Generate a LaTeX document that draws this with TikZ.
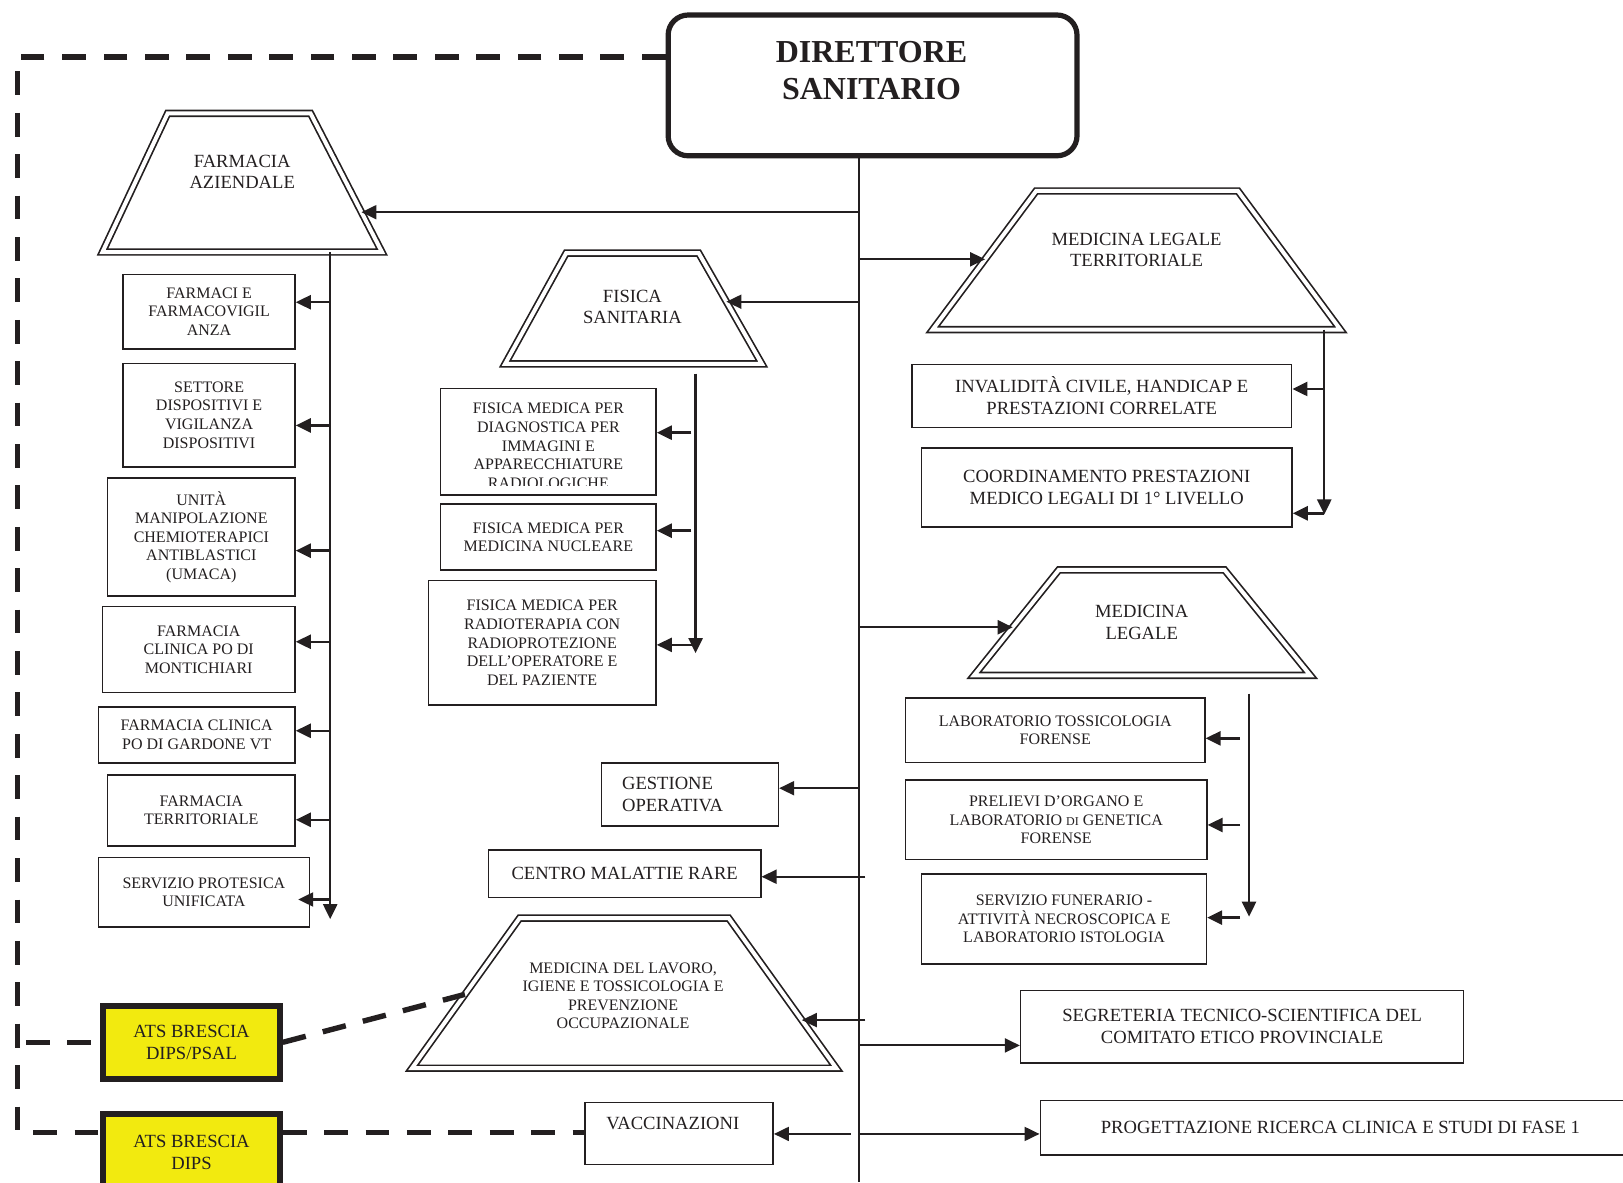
\documentclass[tikz,border=0pt]{standalone}
\usepackage{fontspec}
\setmainfont{Liberation Serif}
\usepackage{xcolor}
\usetikzlibrary{arrows.meta,calc}

\definecolor{ink}{RGB}{35,31,32}
\definecolor{atsyellow}{RGB}{242,234,15}

\tikzset{boxsize/.style 2 args={minimum width={#1*0.5175pt}, minimum height={#2*0.5175pt}}}

\begin{document}
\begin{tikzpicture}[x=0.5175pt, y=-0.5175pt, every node/.style={
    inner sep=0pt,
    align=center,
    text=ink
},
    txtsmall/.style={font=\fontsize{8}{9.3}\selectfont},
    txtbig/.style={font=\fontsize{9.3}{10.9}\selectfont},
    unitbox/.style={rectangle, draw=ink, line width=0.75pt, fill=white},
    directorbox/.style={rectangle, draw=ink, line width=2.6pt, rounded corners=10pt, fill=white},
    atsbox/.style={rectangle, draw=ink, line width=3pt, fill=atsyellow, txtbig},
    deptshape/.style={draw=ink, line width=0.85pt, double=white, double distance=2pt, line join=miter},
    trunkline/.style={draw=ink, line width=0.7pt},
    brancharrow/.style={-{Triangle[length=7.5pt, width=7pt]}, draw=ink, line width=1pt},
    colarrow/.style={-{Triangle[length=7.5pt, width=7pt]}, draw=ink, line width=1.2pt},
    dashline/.style={draw=ink, line width=2.7pt, dash pattern=on 11.9pt off 8.8pt}
]
    \useasboundingbox (0, 0) rectangle (1568, 1142);

    \coordinate (trunk_end) at (830, 1142);



    \node (ds) [directorbox, boxsize={395}{136}, shift={(843, 82.5)}] {};
    \node (ds_txt) [font=\bfseries\fontsize{16}{18.6}\selectfont, shift={(842, 68)}]
    {DIRETTORE\\SANITARIO};

    \draw[trunkline] (ds.south -| trunk_end) to (trunk_end);



    \coordinate (fa_tl) at (162, 109.5);
    \coordinate (fa_tr) at (300, 109.5);
    \coordinate (fa_br) at (369, 243.5);
    \coordinate (fa_bl) at (99, 243.5);
    \draw[deptshape] (fa_tl) -- (fa_tr) -- (fa_br) -- (fa_bl) -- cycle;
    \node (fa) [txtbig, shift={(234, 166)}]
    {FARMACIA\\AZIENDALE};

    \coordinate (mlt_tl) at (1001, 184.5);
    \coordinate (mlt_tr) at (1196, 184.5);
    \coordinate (mlt_br) at (1295, 318.5);
    \coordinate (mlt_bl) at (901, 318.5);
    \draw[deptshape] (mlt_tl) -- (mlt_tr) -- (mlt_br) -- (mlt_bl) -- cycle;
    \node (mlt) [txtbig, shift={(1098, 241.5)}]
    {MEDICINA LEGALE\\TERRITORIALE};

    \coordinate (fs_tl) at (547, 244.5);
    \coordinate (fs_tr) at (675, 244.5);
    \coordinate (fs_br) at (736, 351.5);
    \coordinate (fs_bl) at (488, 351.5);
    \draw[deptshape] (fs_tl) -- (fs_tr) -- (fs_br) -- (fs_bl) -- cycle;
    \node (fs) [txtbig, shift={(611, 296.5)}]
    {FISICA\\SANITARIA};

    \coordinate (ml_tl) at (1023, 550.5);
    \coordinate (ml_tr) at (1183, 550.5);
    \coordinate (ml_br) at (1266, 652.5);
    \coordinate (ml_bl) at (941, 652.5);
    \draw[deptshape] (ml_tl) -- (ml_tr) -- (ml_br) -- (ml_bl) -- cycle;
    \node (ml) [txtbig, shift={(1103, 601.5)}]
    {MEDICINA\\LEGALE};

    \coordinate (mdl_tl) at (502, 887);
    \coordinate (mdl_tr) at (704, 887);
    \coordinate (mdl_br) at (808, 1032);
    \coordinate (mdl_bl) at (398, 1032);
    \draw[deptshape] (mdl_tl) -- (mdl_tr) -- (mdl_br) -- (mdl_bl) -- cycle;
    \node (mdl) [txtsmall, shift={(602, 962)}]
    {MEDICINA DEL LAVORO,\\IGIENE E TOSSICOLOGIA E\\PREVENZIONE\\OCCUPAZIONALE};



    \node (fa_farmaci) [unitbox, txtsmall, boxsize={166}{72}, shift={(202, 301)}]
    {FARMACI E\\FARMACOVIGIL\\ANZA};
    \node (fa_dispositivi) [unitbox, txtsmall, boxsize={166}{100}, shift={(202, 401)}]
    {SETTORE\\DISPOSITIVI E\\VIGILANZA\\DISPOSITIVI};
    \node (fa_umaca) [unitbox, txtsmall, boxsize={181}{114}, shift={(194.5, 519)}]
    {UNITÀ\\MANIPOLAZIONE\\CHEMIOTERAPICI\\ANTIBLASTICI\\(UMACA)};
    \node (fa_montichiari) [unitbox, txtsmall, boxsize={186}{83}, shift={(192, 627.5)}]
    {FARMACIA\\CLINICA PO DI\\MONTICHIARI};
    \node (fa_gardone) [unitbox, txtsmall, boxsize={190}{54}, shift={(190, 710)}]
    {FARMACIA CLINICA\\PO DI GARDONE VT};
    \node (fa_territoriale) [unitbox, txtsmall, boxsize={181}{69}, shift={(194.5, 783)}]
    {FARMACIA\\TERRITORIALE};
    \node (fa_protesica) [unitbox, txtsmall, boxsize={204}{67}, shift={(197, 862)}]
    {SERVIZIO PROTESICA\\UNIFICATA};



    \node (fm_diagnostica) [unitbox, boxsize={208}{103}, shift={(529.8, 426.6)}] {};
    \begin{scope}
        \clip (fm_diagnostica.north west) rectangle ([yshift=4.9pt]fm_diagnostica.south east);
        \node (fm_diagnostica_txt) [txtsmall, shift={(529.8, 430.8)}]
        {FISICA MEDICA PER\\DIAGNOSTICA PER\\IMMAGINI E\\APPARECCHIATURE\\RADIOLOGICHE};
    \end{scope}
    \node (fm_nucleare) [unitbox, txtsmall, boxsize={208}{64}, shift={(529.8, 518.9)}]
    {FISICA MEDICA PER\\MEDICINA NUCLEARE};
    \node (fm_radioterapia) [unitbox, txtsmall, boxsize={220}{120}, shift={(523.8, 621)}]
    {FISICA MEDICA PER\\RADIOTERAPIA CON\\RADIOPROTEZIONE\\DELL’OPERATORE E\\DEL PAZIENTE};



    \node (mlt_invalidita) [unitbox, txtbig, boxsize={367}{61}, shift={(1064.4, 382.5)}]
    {INVALIDITÀ CIVILE, HANDICAP E\\PRESTAZIONI CORRELATE};
    \node (mlt_coordinamento) [unitbox, txtbig, boxsize={358}{76}, shift={(1069.2, 471)}]
    {COORDINAMENTO PRESTAZIONI\\MEDICO LEGALI DI 1° LIVELLO};



    \node (ml_tossicologia) [unitbox, txtsmall, boxsize={289}{62}, shift={(1019.5, 705.5)}]
    {LABORATORIO TOSSICOLOGIA\\FORENSE};
    \node (ml_genetica) [unitbox, txtsmall, boxsize={291}{77}, shift={(1020.4, 792)}]
    {PRELIEVI D’ORGANO E\\LABORATORIO {\fontsize{6}{9.3}\selectfont DI} GENETICA\\FORENSE};
    \node (ml_funerario) [unitbox, txtsmall, boxsize={275}{87}, shift={(1028, 888)}]
    {SERVIZIO FUNERARIO -\\ATTIVITÀ NECROSCOPICA E\\LABORATORIO ISTOLOGIA};



    \node (go) [unitbox, txtbig, boxsize={171}{61}, text width=67.8pt, align=left, shift={(666.5, 767.5)}]
    {GESTIONE\\OPERATIVA};
    \node (cm) [unitbox, txtbig, boxsize={263}{46}, shift={(603.5, 844)}]
    {CENTRO MALATTIE RARE};
    \node (vac) [unitbox, boxsize={182}{60}, shift={(656, 1095)}] {};
    \node (vac_txt) [txtbig, shift={(650, 1085)}]
    {VACCINAZIONI};
    \node (seg) [unitbox, txtbig, boxsize={428}{70}, shift={(1200, 992)}]
    {SEGRETERIA TECNICO-SCIENTIFICA DEL\\COMITATO ETICO PROVINCIALE};
    \node (prog) [unitbox, txtbig, boxsize={580}{53}, shift={(1295, 1089.5)}]
    {PROGETTAZIONE RICERCA CLINICA E STUDI DI FASE 1};



    \node (psal) [atsbox, boxsize={170.5}{70.5}, shift={(185, 1007)}]
    {ATS BRESCIA\\DIPS/PSAL};
    \node (dips) [atsbox, boxsize={170.5}{74}, shift={(185, 1113)}]
    {ATS BRESCIA\\DIPS};



    \coordinate (t_fa) at (830, 205);
    \coordinate (t_mlt) at (830, 250.5);
    \coordinate (t_fs) at (830, 291.5);
    \coordinate (t_ml) at (830, 606);
    \coordinate (t_go) at (830, 761.5);
    \coordinate (t_cm) at (836, 847);
    \coordinate (t_mdl) at (836, 985.5);
    \coordinate (t_seg) at (830, 1010);
    \coordinate (t_vac) at (822, 1095.5);
    \coordinate (t_prog) at (830, 1095.5);

    \coordinate (fa_in) at ($(fa_tr)!0.713!(fa_br)$);
    \coordinate (mlt_in) at ($(mlt_tl)!0.4925!(mlt_bl)$);
    \coordinate (fs_in) at ($(fs_tr)!0.439!(fs_br)$);
    \coordinate (ml_in) at ($(ml_tl)!0.544!(ml_bl)$);
    \coordinate (mdl_in) at ($(mdl_tr)!0.679!(mdl_br)$);

    \draw[brancharrow] (t_fa) to (t_fa -| fa_in);
    \draw[brancharrow] (t_mlt) to (t_mlt -| mlt_in);
    \draw[brancharrow] (t_fs) to (t_fs -| fs_in);
    \draw[brancharrow] (t_ml) to (t_ml -| ml_in);
    \draw[brancharrow] (t_go) to (t_go -| go.east);
    \draw[brancharrow] (t_cm) to (t_cm -| cm.east);
    \draw[brancharrow] (t_mdl) to (t_mdl -| mdl_in);
    \draw[brancharrow] (t_seg) to (t_seg -| seg.west);
    \draw[brancharrow] (t_vac) to (t_vac -| vac.east);
    \draw[brancharrow] (t_prog) to (t_prog -| prog.west);



    \coordinate (fa_col_top) at (319, 243.5);
    \coordinate (fa_col_end) at (319, 888);
    \coordinate (fa_c1) at (319, 292);
    \coordinate (fa_c2) at (319, 411);
    \coordinate (fa_c3) at (319, 532);
    \coordinate (fa_c4) at (319, 620);
    \coordinate (fa_c5) at (319, 706);
    \coordinate (fa_c6) at (319, 792);
    \coordinate (fa_c7) at (319, 869);

    \draw[colarrow] (fa_col_top) to (fa_col_end);
    \draw[colarrow] (fa_c1) to (fa_c1 -| fa_farmaci.east);
    \draw[colarrow] (fa_c2) to (fa_c2 -| fa_dispositivi.east);
    \draw[colarrow] (fa_c3) to (fa_c3 -| fa_umaca.east);
    \draw[colarrow] (fa_c4) to (fa_c4 -| fa_montichiari.east);
    \draw[colarrow] (fa_c5) to (fa_c5 -| fa_gardone.east);
    \draw[colarrow] (fa_c6) to (fa_c6 -| fa_territoriale.east);
    \draw[colarrow, shorten >=-6pt] (fa_c7) to (fa_c7 -| fa_protesica.east);



    \coordinate (fs_col_top) at (672, 361);
    \coordinate (fs_col_end) at (672, 631);
    \coordinate (fs_c1) at (668, 418);
    \coordinate (fs_c2) at (668, 512.7);
    \coordinate (fs_c3) at (672, 623);

    \draw[colarrow] (fs_col_top) to (fs_col_end);
    \draw[colarrow] (fs_c1) to (fs_c1 -| fm_diagnostica.east);
    \draw[colarrow] (fs_c2) to (fs_c2 -| fm_nucleare.east);
    \draw[colarrow] (fs_c3) to (fs_c3 -| fm_radioterapia.east);



    \coordinate (mlt_col_top) at (1279.4, 318.5);
    \coordinate (mlt_col_end) at (1279.4, 497);
    \coordinate (mlt_c1) at (1279.4, 375.8);
    \coordinate (mlt_c2) at (1279.4, 495.9);

    \draw[colarrow] (mlt_col_top) to (mlt_col_end);
    \draw[colarrow] (mlt_c1) to (mlt_c1 -| mlt_invalidita.east);
    \draw[colarrow] (mlt_c2) to (mlt_c2 -| mlt_coordinamento.east);



    \coordinate (ml_col_top) at (1206.7, 670);
    \coordinate (ml_col_end) at (1206.7, 885.6);
    \coordinate (ml_c1) at (1198, 713.3);
    \coordinate (ml_c2) at (1198, 797);
    \coordinate (ml_c3) at (1198, 886.5);

    \draw[colarrow] (ml_col_top) to (ml_col_end);
    \draw[colarrow] (ml_c1) to (ml_c1 -| ml_tossicologia.east);
    \draw[colarrow] (ml_c2) to (ml_c2 -| ml_genetica.east);
    \draw[colarrow] (ml_c3) to (ml_c3 -| ml_funerario.east);



    \coordinate (d_top) at (17, 55);
    \coordinate (d_bot) at (17, 1094);
    \coordinate (d_mid) at (25, 1007);
    \coordinate (mdl_dash) at ($(mdl_tl)!0.508!(mdl_bl)$);

    \draw[dashline] (ds.west |- d_top) -- (d_top) -- (d_bot) -- (dips.west |- d_bot);
    \draw[dashline] (d_mid) -- (psal.west |- d_mid);
    \draw[dashline] (psal.east) -- (mdl_dash);
    \draw[dashline] (dips.east |- d_bot) -- (vac.west |- d_bot);


\end{tikzpicture}
\end{document}
